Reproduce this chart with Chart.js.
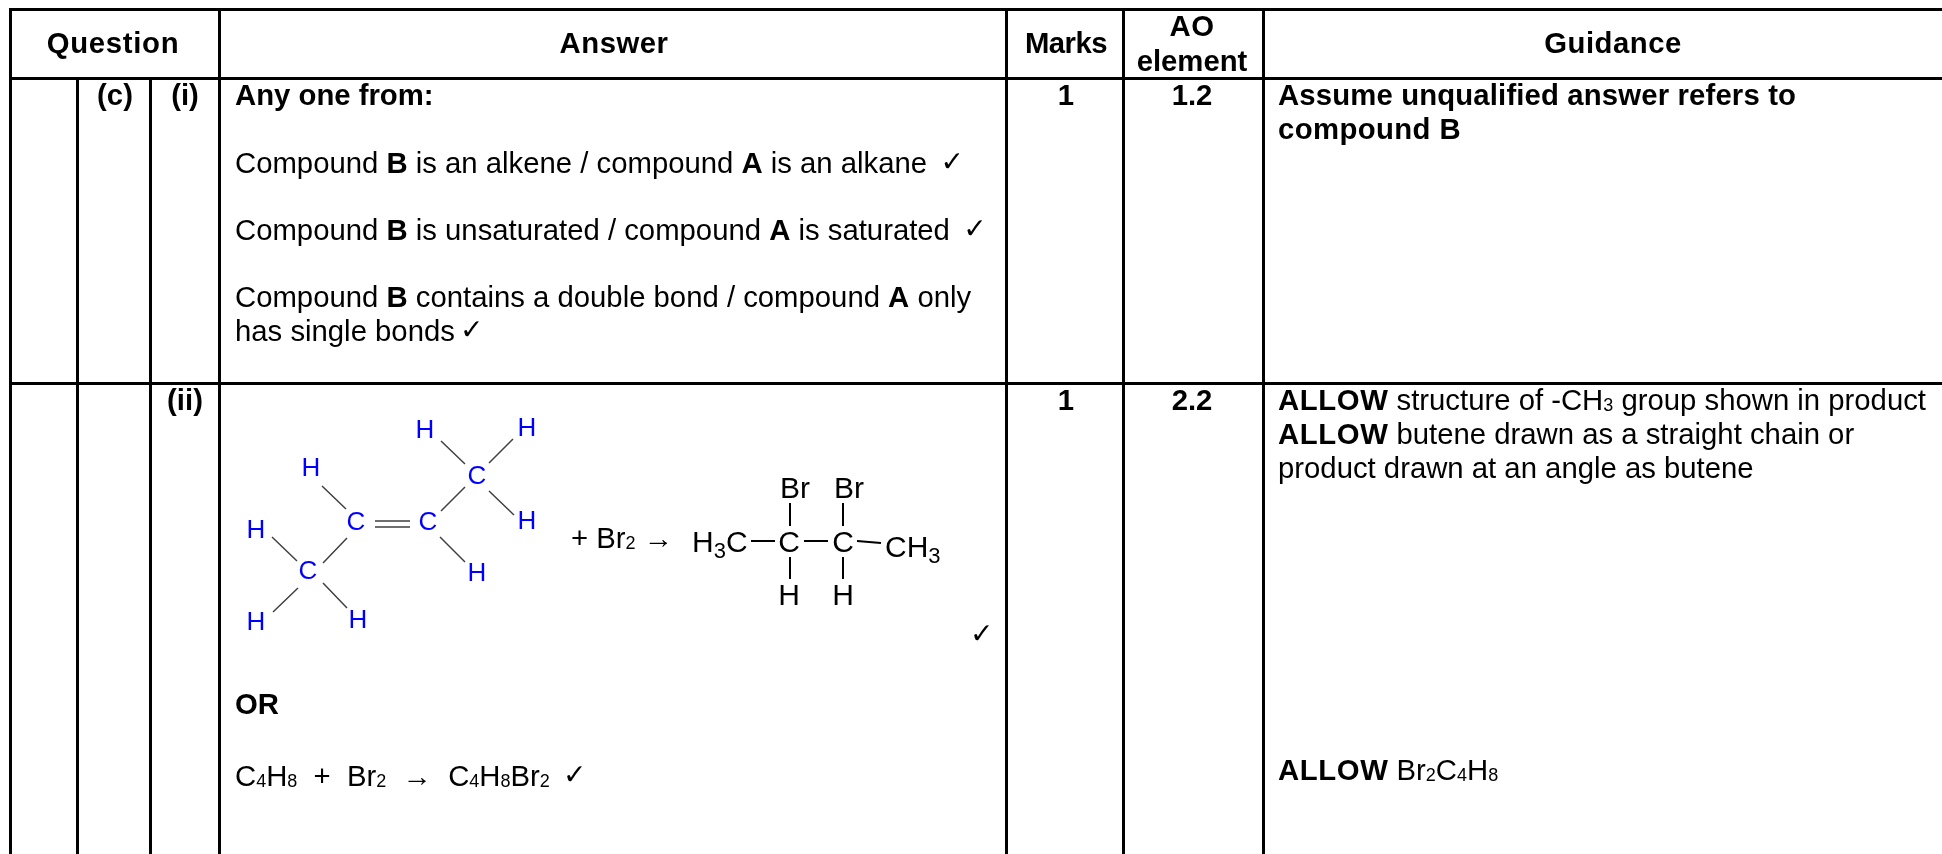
<!DOCTYPE html>
<html>
<head>
<meta charset="utf-8">
<title>Mark scheme table</title>
<script src="https://cdn.jsdelivr.net/npm/chart.js@4/dist/chart.umd.min.js"></script>
<style>
    html, body { margin: 0; padding: 0; background: #fff; overflow: hidden; }
    canvas { display: block; }
</style>
</head>
<body>
<canvas id="sheet" width="1942" height="854"></canvas>
<script>
// Table text. ** toggles bold, _ makes the next character a subscript
const headerLabels = ['Question', 'Answer', 'Marks', 'AO', 'element', 'Guidance'];
const rowLabels = ['(c)', '(i)', '(ii)'];
const marksValues = ['1', '1'];
const aoValues = ['1.2', '2.2'];
const answerLines = [
    '**Any one from:**',
    'Compound **B** is an alkene / compound **A** is an alkane  ✓',
    'Compound **B** is unsaturated / compound **A** is saturated  ✓',
    'Compound **B** contains a double bond / compound **A** only',
    'has single bonds ✓',
    '**OR**',
    'C_4H_8  +  Br_2  →  C_4H_8Br_2  ✓'
];
const guidanceLines = [
    '**Assume unqualified answer refers to**',
    '**compound B**',
    '**ALLOW** structure of -CH_3 group shown in product',
    '**ALLOW** butene drawn as a straight chain or',
    'product drawn at an angle as butene',
    '**ALLOW** Br_2C_4H_8'
];
const butene = ['H', 'H', 'C', 'H', 'C', 'C', 'H', 'H', 'H', 'C', 'H', 'H'];
const product = ['Br', 'Br', 'H_3C', 'C', 'C', 'CH_3', 'H', 'H'];

// Where things sit, in picture pixels
const headerCentres = [113, 614, 1066, 1192, 1192, 1613];
const headerBaselines = [53, 53, 53, 36, 71, 53];
const headerSpacing = [0.7, 0.5, -0.5, 0.5, 0, 0.5];
const rowCentres = [115, 185, 185];
const rowBaselines = [105, 105, 410];
const valueBaselines = [105, 410];
const answerBaselines = [105, 173, 240, 306.5, 341, 714, 786];
const guidanceBaselines = [105, 139, 410, 443.5, 478, 780];
const guidanceBoldSpacing = [0.15, 0.4, 0.6, 0.6, 0, 0.6];
const buteneX = [425, 527, 477, 311, 356, 428, 527, 256, 477, 308, 256, 358];
const buteneY = [431, 429, 477, 469, 523, 523, 522, 531, 574, 572, 623, 621];
const productX = [795, 849, 692, 789, 843, 885, 789, 843];
const productY = [498, 498, 552, 552, 552, 557, 605, 605];

// Table rules
const tableRules = [
    [[9, 9.5], [1942, 9.5]],
    [[9, 78.5], [1942, 78.5]],
    [[9, 383.5], [1942, 383.5]],
    [[10.5, 8], [10.5, 854]],
    [[77.5, 78], [77.5, 854]],
    [[150.5, 78], [150.5, 854]],
    [[219.5, 8], [219.5, 854]],
    [[1006.5, 8], [1006.5, 854]],
    [[1123.5, 8], [1123.5, 854]],
    [[1263.5, 8], [1263.5, 854]]
];

// Bonds between the atoms
const buteneBonds = [
    [[441, 441], [465, 464]], [[513, 439], [489, 463]],
    [[465, 487], [441, 511]], [[489, 491], [514, 515]],
    [[322, 486], [346, 509]], [[375, 521], [410, 521]],
    [[375, 527], [410, 527]], [[440, 537], [465, 562]],
    [[347, 538], [323, 563]], [[272, 537], [297, 561]],
    [[298, 588], [273, 612]], [[323, 583], [347, 608]]
];
const productBonds = [
    [[751, 541], [775, 541]], [[804, 541], [828, 541]],
    [[857, 541], [881, 543]], [[790, 503], [790, 526]],
    [[843, 503], [843, 526]], [[790, 557], [790, 579]],
    [[843, 557], [843, 579]]
];

// Turn [a, b] pairs into one line dataset, NaN breaks the line between pairs
function segments(pairs, colour, width) {
    const data = [];
    pairs.forEach(function(p) {
        data.push({ x: p[0][0], y: p[0][1] }, { x: p[1][0], y: p[1][1] }, { x: NaN, y: NaN });
    });
    return {
        data: data,
        showLine: true,
        spanGaps: false,
        borderColor: colour,
        borderWidth: width,
        pointRadius: 0,
        borderCapStyle: 'butt'
    };
}

const FONT = '"Liberation Sans", "DejaVu Sans", sans-serif';

// Split markup into runs of text with bold, subscript and tick flags
function parseRuns(text) {
    const runs = [];
    let bold = false, cur = '';
    const flush = function() {
        if (cur) runs.push({ t: cur, bold: bold });
        cur = '';
    };
    for (let i = 0; i < text.length; i++) {
        if (text.startsWith('**', i)) {
            flush();
            bold = !bold;
            i++;
        } else if (text[i] === '_') {
            flush();
            i++;
            runs.push({ t: text[i], bold: bold, sub: true });
        } else if (text[i] === '✓') {
            flush();
            runs.push({ t: text[i], bold: bold, tick: true });
        } else {
            cur += text[i];
        }
    }
    flush();
    return runs;
}

// Write one line of mixed runs, x and y are scale values
function writeLine(chart, text, x, y, o) {
    const ctx = chart.ctx;
    const size = o.size || 29.3;
    const runs = parseRuns(text);
    const fontOf = function(r) {
        const px = r.tick ? 28 : (r.sub ? (o.subSize || 18) : size);
        return (r.bold || o.bold ? 'bold ' : '') + px + 'px ' + FONT;
    };
    const spacingOf = function(r) {
        return (r.bold ? (o.boldSpacing || 0) : (o.spacing || 0)) + 'px';
    };
    ctx.save();
    ctx.fillStyle = o.colour || '#000';
    ctx.textBaseline = o.middle ? 'middle' : 'alphabetic';
    ctx.textAlign = 'left';
    let total = 0;
    runs.forEach(function(r) {
        ctx.font = fontOf(r);
        ctx.letterSpacing = spacingOf(r);
        r.w = ctx.measureText(r.t).width;
        total += r.w;
    });
    let px = chart.scales.x.getPixelForValue(x);
    const py = chart.scales.y.getPixelForValue(y);
    if (o.centre) px -= total / 2;
    runs.forEach(function(r) {
        ctx.font = fontOf(r);
        ctx.letterSpacing = spacingOf(r);
        const dx = r.tick ? -3 : 0;
        const dy = r.tick ? -2 : (r.sub ? (o.subDrop || 1) : 0);
        ctx.fillText(r.t, px + dx, py + dy);
        px += r.w;
    });
    ctx.restore();
}

const tableText = {
    id: 'tableText',
    afterDatasetsDraw: function(chart) {
        headerLabels.forEach(function(t, i) {
            writeLine(chart, t, headerCentres[i], headerBaselines[i], { bold: true, centre: true, spacing: headerSpacing[i] });
        });
        rowLabels.forEach(function(t, i) {
            writeLine(chart, t, rowCentres[i], rowBaselines[i], { bold: true, centre: true });
        });
        marksValues.forEach(function(t, i) {
            writeLine(chart, t, 1066, valueBaselines[i], { bold: true, centre: true });
            writeLine(chart, aoValues[i], 1192, valueBaselines[i], { bold: true, centre: true });
        });
        answerLines.forEach(function(t, i) {
            writeLine(chart, t, 235, answerBaselines[i], {});
        });
        guidanceLines.forEach(function(t, i) {
            writeLine(chart, t, 1278, guidanceBaselines[i], { boldSpacing: guidanceBoldSpacing[i] });
        });
        butene.forEach(function(t, i) {
            writeLine(chart, t, buteneX[i], buteneY[i], { centre: true, middle: true, size: 26, colour: '#0000ff' });
        });
        writeLine(chart, '+ Br_2 →', 571, 548, {});
        product.forEach(function(t, i) {
            const centred = t.indexOf('_') < 0;
            writeLine(chart, t, productX[i], productY[i], { centre: centred, size: 30, subSize: 22, subDrop: 6 });
        });
        writeLine(chart, '✓', 973, 645, {});
    }
};

new Chart(document.getElementById('sheet'), {
    type: 'scatter',
    data: {
        datasets: [
            segments(tableRules, '#000', 3),
            segments(buteneBonds, '#404040', 1.5),
            segments(productBonds, '#000', 2)
        ]
    },
    options: {
        responsive: false,
        animation: false,
        events: [],
        layout: { padding: 0 },
        plugins: { legend: { display: false }, tooltip: { enabled: false } },
        scales: {
            x: { type: 'linear', display: false, min: 0, max: 1942 },
            y: { type: 'linear', display: false, min: 0, max: 854, reverse: true }
        }
    },
    plugins: [tableText]
});
</script>
</body>
</html>
